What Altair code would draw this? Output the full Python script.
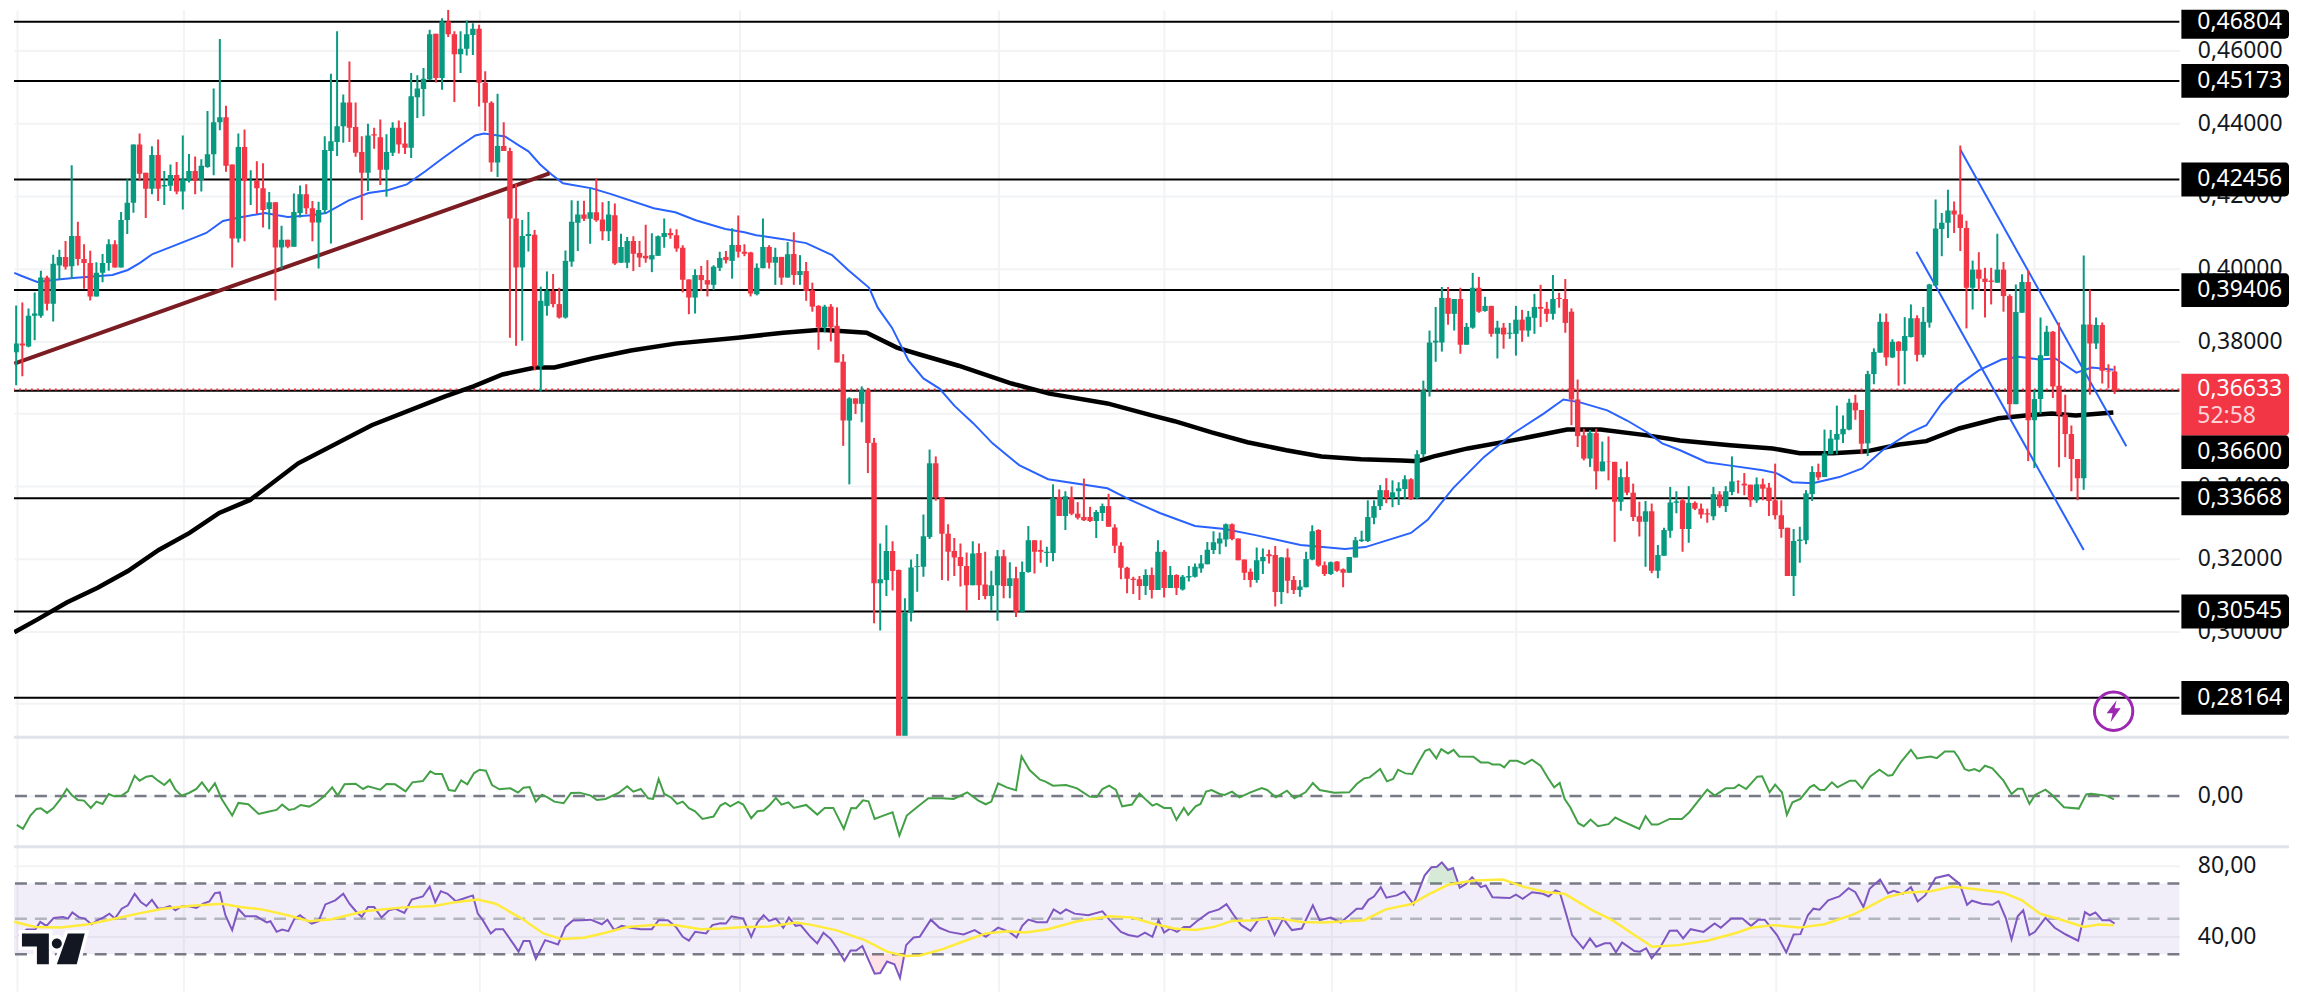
import altair as alt
import pandas as pd

# ---- candles, prices in units of 0.0001, bar by bar ----
high = [
 4054,3898,3906,3890,3934,3994,3980,4038,4052,4076,4285,4129,4067,4049,4017,4040,4081,4078,4156,4246,
 4342,4372,4264,4337,4356,4269,4287,4294,4367,4316,4309,4301,4434,4496,4633,4449,4287,4372,4383,4271,
 4296,4290,4211,4183,4118,4079,4207,4229,4232,4186,4184,4365,4537,4654,4480,4571,4458,4365,4399,4388,
 4411,4370,4403,4408,4403,4539,4533,4553,4658,4647,4690,4750,4654,4654,4684,4676,4672,4544,4461,4482,4403,
 4333,4232,4134,4156,4106,3950,3992,3985,3947,
 4050,4188,4187,4187,4220,4248,4183,4186,4179,4096,4087,4089,4076,4121,4097,4091,4138,4110,4108,4064,
 3970,3998,4007,4023,4009,4046,4048,4111,4146,4067,4046,4014,4138,4064,4057,4032,4073,4100,4037,4018,
 3961,3899,3900,3902,3893,3764,3645,3642,3675,3671,3533,
 3242,3292,3248,3170,3091,3198,3213,3322,3501,
 3482,3369,3295,3257,3242,3217,3248,3242,3219,3167,3224,3225,3190,3178,3192,3290,3251,3251,3233,3405,
 3391,3386,3399,3356,3421,3343,3334,3352,3379,3295,3245,3178,3150,3152,3171,3176,3251,3224,3180,3157,
 3155,3180,3187,3210,3246,3276,3272,3297,3297,3256,3198,3173,3231,3228,3225,3235,3205,3228,3152,3141,
 3219,3292,3281,3192,3192,3193,3173,3205,3260,3277,3361,3361,
 3403,3422,3416,3411,3430,3422,3499,3691,3829,3894,3949,3949,3916,3947,
 3850,3988,3977,3922,3897,3856,3850,3850,3897,3886,3883,3930,3955,3908,3982,3933,3971,3890,
 3694,3558,3555,3558,3523,3537,3467,3448,3468,3407,3357,3359,3352,3238,3285,3398,3386,3366,3400,3358,
 3352,3338,3398,3386,3400,3482,3416,3436,3404,3424,3421,3409,3462,3361,3285,3282,3288,3389,3455,3462,
 3556,3555,3622,3595,3641,3652,3610,
 3718,3780,3876,3876,3805,3800,3866,3901,3871,3894,3958,4190,4153,4217,4185,4339,4132,4022,4045,4002,
 4002,4096,4018,3929,3956,3984,3995,3665,3865,3842,3828,3851,3652,3567,3475,4036,3942,3865,3851,3736,3732,
]
body_top = [
 3978,3793,3793,3870,3876,3975,3975,4013,4032,4032,4090,4090,4026,4015,3988,4015,4067,4067,4134,4181,
 4342,4342,4264,4313,4313,4230,4258,4258,4246,4269,4269,4283,4315,4403,4417,4417,4287,4335,4335,4243,
 4243,4221,4183,4183,4079,4079,4156,4205,4205,4166,4161,4327,4351,4392,4458,4458,4390,4321,4367,4370,
 4362,4321,4388,4388,4345,4475,4496,4523,4646,4647,4681,4681,4646,4606,4646,4661,4661,4512,4457,4338,4338,
 4324,4138,4090,4095,4093,3911,3939,3938,3902,
 4021,4129,4149,4149,4155,4155,4135,4149,4147,4059,4076,4076,4043,4035,4037,4089,4098,4098,4092,4057,
 3970,3982,3982,3968,4005,4029,4032,4065,4065,4046,4044,4002,4059,4059,4032,4032,4039,4040,3993,3993,
 3940,3897,3895,3895,3842,3743,3642,3642,3665,3665,3520,
 3143,3221,3221,3169,3051,3176,3180,3262,3463,
 3463,3369,3269,3221,3205,3180,3214,3216,3129,3127,3207,3207,3146,3146,3163,3251,3251,3224,3219,3367,
 3370,3372,3370,3324,3315,3315,3329,3345,3345,3286,3236,3175,3145,3143,3155,3155,3219,3219,3155,3155,
 3150,3152,3178,3187,3225,3245,3256,3295,3295,3256,3198,3164,3196,3205,3212,3210,3203,3203,3141,3123,
 3199,3276,3279,3182,3190,3192,3171,3205,3251,3253,3315,3345,
 3389,3389,3383,3394,3419,3419,3488,3664,3796,3801,3919,3919,3916,3916,
 3839,3947,3947,3897,3897,3837,3837,3823,3859,3859,3867,3894,3894,3889,3916,3919,3916,3881,
 3639,3540,3547,3546,3468,3468,3467,3425,3425,3382,3317,3331,3331,3210,3279,3355,3358,3361,3354,3354,
 3338,3325,3378,3377,3386,3413,3414,3407,3404,3405,3405,3396,3361,3320,3285,3249,3253,3380,3439,3439,
 3490,3531,3544,3558,3630,3630,3610,
 3709,3770,3853,3853,3798,3798,3814,3863,3863,3853,3956,4110,4126,4160,4160,4149,4112,3997,3997,3972,
 3967,3997,3997,3924,3880,3963,3963,3640,3761,3826,3826,3677,3597,3544,3475,3846,3846,3844,3844,3718,3716,
]
body_bottom = [
 3769,3769,3788,3785,3870,3870,3903,3903,4008,4005,4006,4026,4015,3923,3923,3988,4015,4003,4003,4134,
 4181,4261,4220,4220,4220,4226,4228,4212,4212,4241,4241,4244,4280,4315,4403,4283,4083,4083,4241,4241,
 4221,4161,4164,4058,4058,4060,4060,4153,4166,4127,4127,4161,4324,4349,4392,4388,4319,4264,4264,4367,
 4272,4272,4319,4342,4333,4333,4472,4495,4521,4525,4525,4646,4591,4591,4606,4644,4512,4457,4292,4292,4324,
 4138,4003,4003,4090,3730,3730,3897,3902,3865,
 3865,4019,4126,4137,4137,4133,4103,4103,4014,4016,4016,4041,4030,4028,4025,4035,4087,4092,4055,3969,
 3920,3920,3968,3956,3955,4002,4023,4021,4046,4041,3931,3929,4001,4016,4016,3975,3975,3982,3982,3938,
 3895,3838,3838,3838,3741,3581,3581,3627,3627,3519,3132,
 3132,3141,3166,2680,2650,3050,3178,3178,3260,
 3369,3269,3219,3203,3180,3127,3127,3127,3097,3097,3127,3125,3125,3054,3054,3163,3219,3219,3216,3216,
 3318,3318,3324,3313,3306,3304,3304,3326,3288,3236,3175,3145,3141,3125,3125,3114,3114,3119,3119,3119,
 3115,3148,3150,3173,3185,3224,3242,3253,3254,3196,3161,3141,3141,3193,3207,3108,3108,3139,3114,3114,
 3121,3198,3181,3158,3158,3167,3161,3161,3203,3249,3249,3313,
 3345,3367,3367,3386,3392,3364,3367,3488,3664,3796,3796,3875,3875,3790,
 3790,3837,3881,3883,3820,3820,3818,3820,3820,3829,3829,3864,3889,3875,3875,3916,3850,3639,
 3538,3476,3476,3441,3441,3467,3357,3357,3382,3315,3302,3302,3167,3167,3208,3277,3354,3282,3282,3338,
 3322,3322,3317,3345,3345,3384,3413,3402,3361,3361,3393,3359,3320,3282,3152,3152,3249,3251,3378,3424,
 3425,3488,3528,3543,3556,3609,3517,
 3518,3709,3768,3755,3755,3773,3773,3811,3762,3762,3851,3953,4109,4126,4149,4112,3947,3947,3972,3963,
 3963,3961,3924,3626,3626,3878,3582,3582,3640,3759,3675,3597,3544,3475,3422,3422,3793,3793,3718,3716,3663,
]
low = [
 3650,3678,3703,3783,3802,3864,3884,3854,3969,3997,3971,4008,3944,3912,3923,3962,3994,4003,4003,4095,
 4154,4241,4139,4205,4186,4175,4214,4205,4163,4237,4205,4212,4278,4257,4381,4267,4003,4072,4075,4175,
 4150,4113,4108,3912,3999,4056,4060,4141,4150,4075,4000,4150,4069,4310,4347,4349,4308,4134,4214,4330,
 4230,4198,4310,4317,4316,4305,4415,4420,4519,4513,4493,4638,4459,4539,4587,4589,4447,4379,4267,4252,4324,
 3809,3787,3801,4047,3719,3661,3870,3893,3862,
 3862,4005,4048,4131,4068,4129,4078,4076,4010,4016,4001,3993,4004,4016,3990,4035,4057,4082,4046,3934,
 3874,3876,3938,3923,3941,3993,4014,3972,4030,4034,3923,3926,4001,4000,3955,3955,3975,3955,3955,3911,
 3881,3776,3824,3799,3741,3511,3405,3599,3576,3436,3022,
 3002,3097,3112,2650,2640,3027,3109,3150,3254,
 3360,3141,3139,3152,3123,3056,3127,3086,3088,3056,3029,3091,3091,3039,3051,3161,3159,3189,3178,3193,
 3318,3279,3320,3308,3304,3301,3257,3304,3288,3216,3143,3105,3103,3086,3100,3090,3114,3093,3119,3100,
 3112,3137,3148,3161,3185,3213,3212,3233,3251,3196,3141,3121,3134,3158,3187,3068,3075,3105,3103,3095,
 3121,3196,3178,3152,3155,3164,3121,3161,3203,3246,3246,3295,
 3334,3353,3342,3348,3364,3362,3364,3480,3647,3743,3771,3845,3829,3765,
 3790,3834,3878,3881,3812,3752,3779,3806,3760,3798,3812,3820,3839,3853,3859,3892,3823,3568,
 3508,3471,3453,3391,3441,3416,3247,3332,3375,3304,3261,3178,3160,3146,3208,3258,3325,3219,3244,3334,
 3311,3299,3306,3340,3329,3375,3380,3375,3343,3354,3361,3318,3308,3258,3152,3097,3189,3240,3359,3416,
 3425,3488,3488,3519,3554,3583,3488,
 3483,3681,3768,3732,3753,3677,3681,3810,3744,3755,3837,3952,4034,4084,4098,4048,3835,3887,3938,3865,
 3901,3961,3881,3590,3626,3878,3469,3450,3599,3759,3643,3452,3480,3386,3361,3390,3652,3778,3683,3669,3654,
]
direction = (
 "rgrgggrggr" "grrrgggrgg" "grrgrggrgg" "rggggrrgrg" "rrgrgrggrr" "gggggrrrgr" "rggrrggggr" "grrgggrrrgr" "rrggrggrr"
 "gggrgrrgrg" "grrrgggrrr" "rgrrggrgrr" "rggrgrgrgr" "rrgrrrgrgr" "r"
 "ggrrggggg" "rrrrrrgrrg" "grgrggrrgg" "rgrrrrggrr" "rrrrgrgrgr" "ggggggggrr" "rrggrrgrrg" "ggrrgrrggg" "gg"
 "grgg" "grgggggrgr" "ggrgrgrggr" "ggrrgrrr"
 "rrgrgrrgrr" "rgrggggrgr" "rrgrggrrrg" "rrrrrggggr" "gggggrr"
 "gggrgrggrg" "ggggrrrgrr" "rgrrggrggg" "rrrrrgrgrr" "r"
)

# ---- moving averages, bar index and price in 0.0001 ----
sma50_bar = [0.7,1.8,4.4,7.4,10.2,16.6,19.1,21.0,23.1,26.0,29.7,31.8,34.5,37.6,41.3,45.0,48.8,51.2,54.9,58.1,
 61.2,64.3,67.3,70.1,72.8,75.4,76.8,80.2,82.5,84.0,85.9,87.7,89.6,94.3,97.4,104.3,107.8,111.1,115.9,119.0,
 120.9,125.3,129.0,133.2,135.8,139.2,140.6,142.9,145.6,148.0,150.6,153.0,156.1,159.2,163.5,168.2,177.8,181.5,186.3,192.0,
 196.8,201.8,209.1,216.3,219.6,227.0,229.7,233.8,238.8,243.6,248.5,251.7,254.4,258.8,262.0,265.3,267.7,270.6,274.9,278.2,
 284.0,286.2,288.8,292.1,296.4,300.1,303.4,307.7,310.5,313.0,315.8,319.0,322.7,325.5,328.7,331.4,334.8,337.3,340.8]
sma50 = [3988,3980,3963,3969,3974,3982,3996,4015,4040,4059,4084,4098,4131,4142,4153,4142,4147,4153,4188,4208,
 4216,4232,4268,4304,4337,4367,4372,4364,4339,4323,4287,4260,4235,4221,4205,4166,4155,4133,4109,4100,
 4092,4081,4070,4037,3996,3947,3892,3837,3746,3697,3669,3622,3573,3518,3458,3419,3394,3362,3326,3290,
 3282,3265,3238,3227,3232,3271,3307,3394,3480,3546,3600,3639,3631,3609,3581,3548,3518,3499,3466,3458,
 3444,3436,3411,3408,3425,3449,3499,3546,3568,3628,3680,3719,3749,3757,3749,3752,3713,3727,3721]
sma200_bar = [0.7,4.4,9.2,14.2,19.1,24.1,29.1,33.9,38.9,46.7,58.6,70.4,75.1,79.8,85.1,88.2,94.3,100.6,107.8,117.9,
 125.3,131.4,138.8,143.7,147.4,153.7,162.3,168.4,177.8,185.0,188.7,194.7,200.5,206.8,212.5,218.9,225.4,228.1,230.7,236.2,
 244.3,252.3,257.7,265.3,270.6,278.7,285.6,290.0,295.3,300.8,306.1,310.5,315.8,322.2,326.6,330.8,334.7,340.8]
sma200 = [2997,3032,3079,3120,3166,3224,3271,3326,3362,3463,3568,3647,3675,3708,3727,3727,3752,3774,3793,3809,
 3823,3831,3823,3782,3763,3732,3683,3655,3628,3595,3579,3548,3521,3499,3482,3474,3471,3469,3482,3504,
 3529,3556,3556,3540,3526,3513,3504,3491,3491,3496,3515,3524,3559,3587,3595,3600,3595,3603]

# ---- drawn lines ----
support_bar, support = [0.7, 87.4], [3738, 4262]
channel_up_bar, channel_up = [316.0, 342.9], [4328, 3510]
channel_low_bar, channel_low = [308.9, 336.0], [4046, 3224]
levels = [0.46804, 0.45173, 0.42456, 0.39406, 0.36633, 0.33668, 0.30545, 0.28164]
last_price = 0.36633
tag_text = ["0,46804", "0,45173", "0,42456", "0,39406", "0,36600", "0,33668", "0,30545", "0,28164"]
tag_price = [0.46804, 0.45173, 0.42456, 0.39406, 0.34937, 0.33668, 0.30545, 0.28164]
price_ticks = [0.46, 0.44, 0.42, 0.40, 0.38, 0.36, 0.34, 0.32, 0.30, 0.28]
time_grid = [1.1, 28.1, 76.0, 118.2, 160.2, 187.0, 214.1, 243.9, 286.1, 327.9]

# ---- money flow, bar index and value in 0.001 ----
cmf_bar = [-0.6,0.2,1.1,2.1,3.3,4.3,5.0,6.0,7.0,8.2,9.2,10.0,11.0,12.0,13.1,14.0,15.0,16.0,16.9,18.1,
 19.1,20.2,21.0,22.1,23.0,24.0,25.0,25.9,26.8,27.8,29.0,30.2,31.1,32.2,33.2,34.3,36.0,37.0,38.6,40.3,
 42.0,43.2,44.1,45.2,46.1,47.1,48.5,49.7,50.9,52.2,53.1,54.2,56.0,57.2,58.0,60.0,61.0,62.4,64.1,65.2,
 66.9,68.1,68.9,70.0,71.1,72.1,73.1,74.1,75.2,76.1,77.1,78.1,79.3,81.1,82.3,83.2,84.2,85.2,86.2,87.1,
 88.2,89.7,90.9,92.3,94.1,95.1,96.5,98.6,100.0,101.0,102.2,103.4,104.2,105.1,106.0,107.1,108.1,109.0,110.0,111.0,
 112.2,114.0,115.1,115.9,116.7,118.0,118.8,120.1,121.1,122.1,123.1,124.1,125.0,126.1,127.0,129.0,130.8,132.0,133.4,135.1,
 136.3,137.1,138.2,139.1,140.1,141.5,143.0,144.1,145.3,147.0,148.8,151.0,152.9,155.1,156.9,158.1,159.0,160.1,161.6,163.0,
 163.9,165.2,166.9,167.7,169.0,171.1,172.9,174.9,176.1,177.0,178.1,179.2,180.2,181.8,183.0,184.2,185.1,
 185.8,187.0,188.1,189.0,190.2,190.9,192.1,192.9,193.8,194.7,196.0,196.8,198.0,199.2,201.0,202.8,203.7,205.1,206.9,208.1,
 209.9,211.1,212.2,214.6,217.0,218.2,219.4,220.3,222.0,223.1,224.1,224.9,226.1,227.2,228.2,229.3,230.0,231.1,231.9,233.0,
 233.9,234.8,237.1,238.3,239.5,240.2,241.4,242.1,243.0,244.2,245.4,246.6,248.0,249.3,250.2,251.1,251.9,252.8,254.1,255.0,
 256.1,257.3,259.0,260.1,261.4,262.8,264.0,265.0,266.0,267.0,268.9,270.9,272.1,273.8,275.0,276.2,278.0,279.4,280.1,281.3,
 283.1,283.9,285.1,286.0,287.1,287.9,288.8,290.1,291.6,292.3,293.2,294.0,295.2,296.1,298.1,299.0,300.1,301.4,302.9,304.3,
 305.0,306.4,308.0,309.0,311.2,312.2,313.5,315.0,315.7,316.7,317.4,318.3,319.1,320.0,321.2,323.0,324.3,325.3,326.1,327.2,
 328.1,329.8,330.7,332.8,335.2,336.4,337.2,339.6,340.9]
cmf = [-37,-69,-87,-99,-59,-39,-37,-51,-37,-9,21,3,-12,-14,-36,-17,-24,6,-1,1,
 14,61,46,58,61,46,33,49,19,1,9,21,41,13,38,-9,-59,-21,-25,-54,
 -47,-42,-26,-42,-39,-27,-32,-19,-1,26,1,35,37,21,29,19,36,35,14,41,
 45,74,66,66,18,15,47,35,69,79,76,33,20,23,10,25,27,-17,4,-4,
 -17,-22,9,10,1,-12,-9,9,29,13,21,-7,-9,51,6,-4,-24,-17,-37,-46,
 -69,-62,-29,-21,-31,-18,-26,-67,-46,-44,-27,-6,-26,-19,-36,-27,-56,-36,-36,-99,
 -36,-37,-13,-16,-69,-59,-49,-119,-59,-33,-7,-7,-9,11,-14,-25,-17,38,25,17,
 119,78,49,44,31,33,23,-2,-3,21,31,18,-31,-26,7,-14,-29,
 -24,-36,-36,-72,-36,-57,-31,-24,13,18,6,3,13,-4,11,24,18,-4,16,-7,
 11,39,18,10,11,36,53,56,81,44,51,79,68,66,101,136,141,113,141,128,
 139,119,118,101,101,95,95,86,106,106,96,109,91,51,26,39,-9,-34,-82,-91,
 -71,-91,-85,-65,-77,-89,-99,-61,-86,-86,-69,-69,-49,-9,19,1,23,24,34,21,
 58,59,11,34,11,-57,-19,-9,26,33,19,18,41,26,46,46,23,59,79,61,
 63,103,139,113,119,114,134,134,116,81,76,81,74,91,83,46,6,22,22,-24,
 3,19,6,-34,-38,5,7,1,-10]

# ---- RSI, bar index and value ----
rsi_bar = [-0.6,0.2,1.4,2.7,4.1,4.9,5.9,7.1,8.6,9.4,10.1,11.2,12.1,13.2,14.2,15.1,16.1,17.0,18.1,19.1,
 20.2,21.2,22.1,23.0,24.0,25.0,25.9,26.8,27.8,28.8,30.2,31.3,32.3,33.2,34.0,34.9,36.0,37.0,38.1,39.9,
 41.6,42.2,43.2,44.1,45.1,46.1,47.0,48.0,48.9,50.0,51.1,52.7,54.0,55.0,56.0,57.0,58.0,59.0,60.2,61.4,
 62.4,63.9,65.1,66.9,68.0,68.9,69.8,70.9,72.2,73.4,75.0,75.8,76.6,77.9,78.7,79.9,81.7,82.4,83.2,84.2,
 85.2,86.7,88.8,90.0,91.2,92.6,94.1,95.9,96.8,97.9,99.1,100.6,102.2,104.0,105.1,106.6,107.9,109.0,110.0,111.0,
 112.8,113.8,115.1,116.0,116.9,118.8,120.1,121.1,122.1,123.0,124.1,125.3,126.2,127.3,128.1,129.7,130.8,131.8,133.0,134.0,
 135.2,136.2,137.1,138.1,140.1,141.0,142.1,143.3,144.2,145.2,146.4,147.4,149.2,150.6,152.2,154.5,156.3,158.1,160.1,161.9,
 163.1,164.0,165.0,166.4,168.0,169.1,170.2,171.1,172.5,174.7,177.0,178.2,180.0,181.2,182.7,183.9,185.1,
 186.1,187.0,188.0,189.1,190.2,191.2,192.3,194.2,195.9,197.1,198.3,199.5,201.0,202.4,203.7,204.9,206.3,207.7,209.3,211.1,
 212.2,214.0,215.6,217.0,218.2,219.1,220.1,221.0,222.1,223.0,224.7,225.9,227.4,229.2,230.3,231.2,232.0,233.0,233.8,234.9,
 235.9,236.9,238.3,239.1,240.2,241.9,243.0,244.0,245.1,246.6,248.4,249.3,250.4,251.1,252.2,253.1,254.9,256.0,257.0,258.4,
 259.3,260.2,261.2,263.2,264.1,265.1,266.0,267.3,268.9,270.1,271.1,272.3,274.4,276.2,277.2,278.9,280.7,282.1,283.3,284.3,
 286.3,287.8,289.0,290.1,291.3,292.2,293.2,294.6,296.4,297.9,299.0,300.3,301.3,303.0,304.3,305.2,306.7,308.0,309.1,310.3,
 312.0,314.1,315.9,317.1,317.9,319.5,321.2,322.2,323.4,324.3,325.3,326.2,327.2,328.1,329.8,331.3,333.1,335.1,336.2,337.0,
 337.9,339.0,340.2,341.0]
rsi = [45.4,39.3,40.4,43.9,43.9,48.2,46.0,50.5,51.0,50.1,53.6,50.8,50.1,46.9,49.2,50.7,52.9,50.1,55.7,57.6,
 64.1,59.4,57.2,60.7,55.7,56.1,57.2,54.8,57.0,57.2,56.1,58.5,59.8,64.5,64.9,52.0,43.6,55.5,51.4,51.4,
 47.9,48.6,42.6,43.9,43.0,50.1,52.0,49.2,47.3,48.6,58.1,60.4,64.1,58.5,54.4,51.0,56.6,56.6,50.7,54.8,
 55.7,53.3,60.9,62.6,68.2,59.4,65.6,64.1,60.0,61.3,63.2,52.9,49.2,41.7,44.1,44.1,35.1,31.4,37.4,37.4,
 27.3,37.9,35.5,45.4,49.0,49.2,49.5,46.9,49.5,43.6,46.0,44.9,44.1,44.1,49.2,49.2,45.4,39.8,37.6,42.6,
 41.7,46.4,47.5,47.3,51.4,50.1,39.8,47.9,52.0,48.8,50.1,44.9,50.7,46.0,46.4,39.8,36.1,42.1,38.5,33.3,
 26.2,32.0,32.0,34.6,18.9,19.3,25.8,24.3,16.5,35.1,39.4,39.8,49.5,44.9,42.6,41.1,43.6,39.8,45.0,42.6,
 39.4,46.0,49.5,48.0,48.0,55.3,52.9,55.3,52.9,52.0,54.2,49.2,42.6,40.8,39.8,42.2,39.8,
 49.2,42.2,44.5,42.6,45.4,45.4,48.6,53.5,55.3,58.3,52.0,46.4,43.2,50.1,50.7,40.8,50.1,43.6,44.5,57.6,
 49.2,50.7,47.9,52.0,55.7,55.7,60.7,62.6,67.9,61.9,63.2,65.4,58.3,74.4,79.1,79.4,81.9,77.6,78.7,67.5,
 69.7,73.5,67.9,68.8,62.2,61.9,61.7,63.6,61.3,65.0,64.1,62.6,66.0,65.0,52.0,40.8,33.3,38.9,34.2,36.1,
 36.1,31.0,36.6,31.8,31.4,33.3,27.7,33.3,43.2,43.4,38.9,44.1,42.6,47.3,44.9,50.1,50.1,46.0,49.5,49.5,
 40.8,31.0,41.1,41.3,52.0,55.7,55.1,60.4,62.6,67.3,65.0,56.6,66.9,72.2,64.5,65.8,64.1,67.9,59.8,63.2,
 73.1,74.8,69.7,57.9,60.2,58.5,57.9,60.0,50.1,38.3,51.4,54.8,40.8,42.6,50.5,44.9,41.1,37.6,53.8,52.0,
 53.6,49.2,49.2,47.3]
rsi_ma_bar = [0.7,1.1,4.1,8.2,12.4,17.1,20.7,24.8,29.0,34.3,37.3,40.8,45.0,48.5,52.1,57.4,63.3,68.7,72.2,75.8,
 78.7,82.9,86.4,89.4,93.0,96.5,100.0,104.2,107.7,111.9,115.4,119.0,123.1,127.3,129.7,133.8,138.5,142.1,145.0,147.4,
 151.0,154.0,158.1,161.6,164.6,168.2,172.9,178.2,181.8,185.1,
 188.6,192.1,195.1,198.0,201.6,205.1,209.3,212.8,219.4,222.9,227.1,230.0,233.0,237.1,241.9,245.4,249.0,251.9,256.1,259.6,
 263.2,266.1,270.3,275.0,279.8,282.1,285.7,289.8,294.0,298.7,301.1,304.1,307.0,311.2,314.7,318.9,323.0,326.0,328.9,332.5,
 336.0,338.4,340.9]
rsi_ma = [48.6,47.9,45.4,45.0,46.7,50.1,52.9,55.7,57.2,58.5,56.6,55.3,52.0,48.6,49.7,54.2,56.3,57.2,59.4,60.9,
 58.5,50.1,41.7,38.5,39.3,42.1,45.4,46.5,46.5,44.1,44.5,45.4,45.6,47.9,46.7,43.6,37.9,31.4,29.0,29.2,
 32.7,36.6,41.7,43.0,42.2,44.1,48.6,51.4,50.7,47.3,
 44.5,43.6,45.4,48.8,49.2,50.5,48.2,47.9,49.2,55.3,58.3,64.1,69.2,71.6,72.2,67.9,65.0,64.1,55.3,49.2,
 40.8,34.2,35.1,37.6,42.1,44.9,46.4,45.0,46.9,52.5,56.6,62.2,64.7,65.6,68.2,66.5,64.7,60.4,52.9,49.3,
 45.4,46.7,46.4]
over_bar, over = [229.5,230.3,231.2,232.0,233.0,233.8,234.5], [70,79.1,79.4,81.9,77.6,78.7,70]
under_bar, under = [139.0,140.1,141.0,142.1,143.3,144.2,145.0], [30,18.9,19.3,25.8,24.3,16.5,30]

GREEN, RED, BLUE, GRID = "#089981", "#f23645", "#2962ff", "#f2f3f5"
FONT = "Noto Sans"
FS = 23
W, H1, H2, H3 = 2173, 729, 111, 145
BOX_L, BOX_R, TEXT_X = 2175, 2283, 2191
SEP_END = 2283
X_MIN, X_MAX = 0.646, 351.5
P_MIN, P_MAX = 0.27107, 0.47135

xs = alt.Scale(domain=[X_MIN, X_MAX], nice=False, zero=False)
y1s = alt.Scale(domain=[P_MIN, P_MAX], nice=False, zero=False)
y2s = alt.Scale(domain=[-0.153, 0.180], nice=False, zero=False)
y3s = alt.Scale(domain=[9.0, 90.7], nice=False, zero=False)


def x_plain():
    return alt.X("i:Q", scale=xs, axis=None)


def grid_layer():
    return alt.Chart(pd.DataFrame({"i": time_grid})).mark_rule(opacity=0).encode(
        x=alt.X("i:Q", scale=xs, axis=alt.Axis(values=time_grid, grid=True, gridColor=GRID, gridWidth=2,
                labels=False, ticks=False, domain=False, title=None)))


def y_axis(field, scale, values, expr):
    return alt.Y(field, scale=scale, axis=alt.Axis(
        orient="right", values=values, grid=True, gridColor=GRID, gridWidth=2, domain=False, ticks=False,
        labelPadding=18, labelFont=FONT, labelFontSize=FS, labelColor="#131722", labelAlign="left",
        labelBaseline="middle", labelOverlap=False, labelBound=False, labelFlush=False,
        labelExpr=expr, title=None))


def line(bars, vals, color, width, scale):
    df = pd.DataFrame({"i": bars, "v": vals})
    df = df[df.i >= X_MIN]
    return alt.Chart(df).mark_line(color=color, strokeWidth=width, clip=True).encode(
        x=x_plain(), y=alt.Y("v:Q", scale=scale, axis=None))


def hrule(vals, color, width, scale, dash=None):
    kw = {"strokeDash": dash} if dash else {}
    return alt.Chart(pd.DataFrame({"v": vals})).mark_rule(color=color, strokeWidth=width, **kw).encode(
        y=alt.Y("v:Q", scale=scale, axis=None))


def one():
    return alt.Chart(pd.DataFrame({"a": [0]}))


# ---- main pane ----
price = lambda seq: [v / 10000 for v in seq]
pin = lambda seq: [min(max(v / 10000, P_MIN), P_MAX) for v in seq]
candles = pd.DataFrame({
    "i": range(len(high)), "h": pin(high), "l": pin(low),
    "t": pin(body_top), "b": pin(body_bottom), "d": list(direction),
})
candles = candles[candles.i >= 1]
color = alt.Color("d:N", scale=alt.Scale(domain=["g", "r"], range=[GREEN, RED]), legend=None)
wicks = alt.Chart(candles).mark_rule(strokeWidth=2, clip=True).encode(
    x=x_plain(), y=alt.Y("h:Q", scale=y1s, axis=None), y2="l:Q", color=color)
bodies = alt.Chart(candles).mark_rule(strokeWidth=5.4, clip=True).encode(
    x=x_plain(), y=alt.Y("t:Q", scale=y1s, axis=None), y2="b:Q", color=color)

level_layer = alt.Chart(pd.DataFrame({"v": levels})).mark_rule(color="#000000", strokeWidth=2).encode(
    y=y_axis("v:Q", y1s, price_ticks, "replace(format(datum.value,'.5f'),'.',',')"))
last_layer = hrule([last_price + 0.0003], RED, 2, y1s, [2, 4])

half = 17 / 3640
tags = pd.DataFrame({"txt": tag_text, "v": tag_price,
                     "a": [min(p + half, P_MAX) for p in tag_price], "b": [p - half for p in tag_price]})
tag_box = alt.Chart(tags).mark_rect(color="#000000", cornerRadiusTopRight=4, cornerRadiusBottomRight=4).encode(
    x=alt.value(BOX_L), x2=alt.value(BOX_R), y=alt.Y("a:Q", scale=y1s, axis=None), y2="b:Q")
tag_txt = alt.Chart(tags).mark_text(color="#ffffff", font=FONT, fontSize=FS, align="left", baseline="middle").encode(
    x=alt.value(TEXT_X), y=alt.Y("v:Q", scale=y1s, axis=None), text="txt:N")

last_box = alt.Chart(pd.DataFrame({"a": [0.3710], "b": [0.3540]})).mark_rect(
    color=RED, cornerRadiusTopRight=4, cornerRadiusBottomRight=4).encode(
    x=alt.value(BOX_L), x2=alt.value(BOX_R), y=alt.Y("a:Q", scale=y1s, axis=None), y2="b:Q")
last_txt = alt.Chart(pd.DataFrame({"v": [0.3669], "txt": ["0,36633"]})).mark_text(
    color="#ffffff", font=FONT, fontSize=FS, align="left", baseline="middle").encode(
    x=alt.value(TEXT_X), y=alt.Y("v:Q", scale=y1s, axis=None), text="txt:N")
count_txt = alt.Chart(pd.DataFrame({"v": [0.3592], "txt": ["52:58"]})).mark_text(
    color="#fcd3d7", font=FONT, fontSize=FS, align="left", baseline="middle").encode(
    x=alt.value(TEXT_X), y=alt.Y("v:Q", scale=y1s, axis=None), text="txt:N")

ring = one().mark_point(shape="circle", size=1480, filled=False, color="#9c27b0", strokeWidth=3, opacity=1).encode(
    x=alt.value(2107), y=alt.value(704))
bolt = one().mark_point(shape="M3,-11 L-7,2 L-1,2 L-3,11 L7,-3 L1,-3 Z", size=4, filled=True, color="#9c27b0", opacity=1).encode(
    x=alt.value(2107), y=alt.value(704))

main = alt.layer(
    grid_layer(), level_layer, last_layer,
    line(sma200_bar, price(sma200), "#000000", 4.5, y1s),
    line(sma50_bar, price(sma50), BLUE, 2, y1s),
    line(support_bar, price(support), "#7a1c22", 4, y1s),
    line(channel_up_bar, price(channel_up), BLUE, 2, y1s),
    line(channel_low_bar, price(channel_low), BLUE, 2, y1s),
    wicks, bodies, ring, bolt, tag_box, tag_txt, last_box, last_txt, count_txt,
).resolve_axis(x="independent", y="independent").properties(width=W, height=H1)

# ---- money-flow pane ----
cmf_df = pd.DataFrame({"i": cmf_bar, "v": [v / 1000 for v in cmf]})
cmf_df = cmf_df[cmf_df.i >= X_MIN]
sep = lambda pos: one().mark_rule(color="#e0e3eb", strokeWidth=3).encode(
    x=alt.value(0), x2=alt.value(SEP_END), y=alt.value(pos))
flow = alt.layer(
    grid_layer(),
    alt.Chart(pd.DataFrame({"v": [0]})).mark_rule(color="#787b86", strokeWidth=2.5, strokeDash=[12, 8]).encode(
        y=y_axis("v:Q", y2s, [0], "replace(format(datum.value,'.2f'),'.',',')")),
    alt.Chart(cmf_df).mark_line(color="#43a047", strokeWidth=2, clip=True).encode(
        x=x_plain(), y=alt.Y("v:Q", scale=y2s, axis=None)),
    sep(1),
).resolve_axis(x="independent", y="independent").properties(width=W, height=H2)

# ---- RSI pane ----
rsi_df = pd.DataFrame({"i": rsi_bar, "v": rsi})
rsi_df = rsi_df[rsi_df.i >= X_MIN]
band = alt.Chart(pd.DataFrame({"a": [70], "b": [30]})).mark_rect(color="#7e57c2", opacity=0.1).encode(
    y=alt.Y("a:Q", scale=y3s, axis=None), y2="b:Q")
over_area = alt.Chart(pd.DataFrame({"i": over_bar, "v": over, "b": 70})).mark_area(color="#43a047", opacity=0.22).encode(
    x=x_plain(), y=alt.Y("v:Q", scale=y3s, axis=None), y2="b:Q")
under_area = alt.Chart(pd.DataFrame({"i": under_bar, "v": under, "b": 30})).mark_area(color=RED, opacity=0.14).encode(
    x=x_plain(), y=alt.Y("v:Q", scale=y3s, axis=None), y2="b:Q")
LOGO = ("M-31.5,-15.5 L-4.5,-15.5 L-4.5,15.5 L-16.5,15.5 L-16.5,-2.5 L-31.5,-2.5 Z "
        "M14.5,-15.5 L31.5,-15.5 L23.5,15.5 L3.5,15.5 Z "
        "M8.5,-5.5 A5,5 0 1 1 -1.5,-5.5 A5,5 0 1 1 8.5,-5.5 Z")
logo_halo = one().mark_point(shape=LOGO, size=4, filled=False, color="#ffffff", strokeWidth=7, opacity=1).encode(
    x=alt.value(39.5), y=alt.value(102.5))
logo = one().mark_point(shape=LOGO, size=4, filled=True, color="#131722", opacity=1).encode(
    x=alt.value(39.5), y=alt.value(102.5))

strength = alt.layer(
    band, grid_layer(),
    alt.Chart(pd.DataFrame({"v": [70, 30]})).mark_rule(color="#787b86", strokeWidth=2.5, strokeDash=[12, 8]).encode(
        y=y_axis("v:Q", y3s, [80, 40], "replace(format(datum.value,'.2f'),'.',',')")),
    hrule([50], "#b2b5be", 2.5, y3s, [12, 8]),
    over_area, under_area,
    alt.Chart(rsi_df).mark_line(color="#7e57c2", strokeWidth=2, clip=True).encode(
        x=x_plain(), y=alt.Y("v:Q", scale=y3s, axis=None)),
    line(rsi_ma_bar, rsi_ma, "#ffeb3b", 2.5, y3s),
    logo_halo, logo, sep(0),
).resolve_axis(x="independent", y="independent").properties(width=W, height=H3)

chart = alt.vconcat(main, flow, strength, spacing=0, bounds="flush").resolve_scale(
    x="independent", y="independent", color="independent"
).properties(
    padding={"left": 0, "top": 0, "right": 0, "bottom": 0}, background="#ffffff"
).configure_view(strokeWidth=0)

chart.save("out.html", embed_options={"renderer": "svg", "actions": False})
